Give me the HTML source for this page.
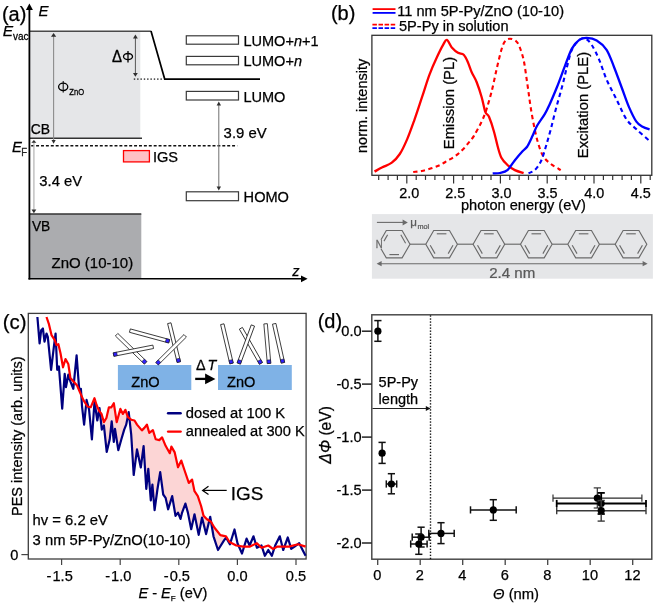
<!DOCTYPE html>
<html><head><meta charset="utf-8"><title>Figure</title>
<style>
html,body{margin:0;padding:0;background:#fff;}
body{width:656px;height:605px;overflow:hidden;}
svg{display:block;font-family:"Liberation Sans",sans-serif;will-change:transform;}
</style></head>
<body>
<svg width="656" height="605" viewBox="0 0 656 605">
<rect width="656" height="605" fill="#fff"/>
<rect x="29.5" y="31" width="110.8" height="107.2" fill="#e5e6e8"/>
<rect x="29.5" y="214" width="111.8" height="64.6" fill="#abacaf"/>
<polyline points="29.5,31.3 151,31.3" fill="none" stroke="#4a4a4a" stroke-width="1.6"/>
<polyline points="151,31 164.7,79.1 260,79.1" fill="none" stroke="#000" stroke-width="1.7" stroke-linejoin="miter"/>
<rect x="133.80" y="78.45" width="1.4" height="1.3" fill="#1a1a1a"/>
<rect x="137.13" y="78.45" width="1.4" height="1.3" fill="#1a1a1a"/>
<rect x="140.46" y="78.45" width="1.4" height="1.3" fill="#1a1a1a"/>
<rect x="143.79" y="78.45" width="1.4" height="1.3" fill="#1a1a1a"/>
<rect x="147.12" y="78.45" width="1.4" height="1.3" fill="#1a1a1a"/>
<rect x="150.45" y="78.45" width="1.4" height="1.3" fill="#1a1a1a"/>
<rect x="153.78" y="78.45" width="1.4" height="1.3" fill="#1a1a1a"/>
<rect x="157.11" y="78.45" width="1.4" height="1.3" fill="#1a1a1a"/>
<rect x="160.44" y="78.45" width="1.4" height="1.3" fill="#1a1a1a"/>
<line x1="29.5" y1="138.2" x2="142" y2="138.2" stroke="#333" stroke-width="1.5" />
<line x1="29.5" y1="214" x2="141.3" y2="214" stroke="#333" stroke-width="1.5" />
<line x1="31.2" y1="145.8" x2="237.2" y2="145.8" stroke="#111" stroke-width="1.6" stroke-dasharray="2.95 1.95"/>
<line x1="29.4" y1="9" x2="29.4" y2="279.5" stroke="#000" stroke-width="1.8" />
<polygon points="29.4,3.4 32.9,10.0 25.9,10.0" fill="#000"/>
<line x1="28.5" y1="278.8" x2="302" y2="278.8" stroke="#000" stroke-width="1.6" />
<polygon points="307.6,278.8 301.0,282.2 301.0,275.4" fill="#000"/>
<line x1="53.6" y1="36" x2="53.6" y2="140.5" stroke="#8c8c8c" stroke-width="1.1" />
<polygon points="53.6,33.0 56.2,36.8 51.0,36.8" fill="#2e2e2e"/>
<polygon points="53.6,143.8 51.5,139.9 55.7,139.9" fill="#2e2e2e"/>
<line x1="135.4" y1="37" x2="135.4" y2="74" stroke="#555" stroke-width="1.0" />
<polygon points="135.4,34.4 137.8,38.6 133.0,38.6" fill="#2e2e2e"/>
<polygon points="135.4,76.8 133.0,72.9 137.8,72.9" fill="#2e2e2e"/>
<line x1="33.9" y1="142" x2="33.9" y2="211" stroke="#b8b8b8" stroke-width="1.3" />
<polygon points="33.9,139.9 36.4,142.8 31.4,142.8" fill="#2e2e2e"/>
<polygon points="33.9,213.2 31.5,209.6 36.3,209.6" fill="#2e2e2e"/>
<line x1="218.8" y1="104" x2="218.8" y2="188" stroke="#707070" stroke-width="1.0" />
<polygon points="218.8,101.6 221.0,105.6 216.6,105.6" fill="#2e2e2e"/>
<polygon points="218.8,190.4 216.6,186.4 221.0,186.4" fill="#2e2e2e"/>
<rect x="186.3" y="35.8" width="52.2" height="8.400000000000006" fill="#fff" stroke="#3a3a3a" stroke-width="1.2"/>
<rect x="186.3" y="56.4" width="52.2" height="8.399999999999999" fill="#fff" stroke="#3a3a3a" stroke-width="1.2"/>
<rect x="186.3" y="91.4" width="52.2" height="8.599999999999994" fill="#fff" stroke="#3a3a3a" stroke-width="1.2"/>
<rect x="186.3" y="191.8" width="52.2" height="8.899999999999977" fill="#fff" stroke="#3a3a3a" stroke-width="1.2"/>
<rect x="123.5" y="150.6" width="25.9" height="11.3" fill="#ffc0c4" stroke="#f00" stroke-width="1.3"/>
<text transform="translate(1.9,21.1)" font-size="20" text-anchor="start" fill="#000" stroke="#000" stroke-width="0.25" >(a)</text>
<text transform="translate(38.4,15.6)" font-size="15.0" text-anchor="start" fill="#000" stroke="#000" stroke-width="0.25" font-style="italic">E</text>
<text transform="translate(2.8,36.3)" font-size="15.5" text-anchor="start" fill="#000" stroke="#000" stroke-width="0.25" font-style="italic">E</text>
<text transform="translate(12.9,39.9) scale(1,1.15)" font-size="10.0" text-anchor="start" fill="#000" stroke="#000" stroke-width="0.25" >vac</text>
<text transform="translate(112,61.9) scale(1,1.1)" font-size="15" text-anchor="start" fill="#000" stroke="#000" stroke-width="0.25" >Δ</text>
<ellipse cx="128.0" cy="56.6" rx="4.5" ry="3.1" fill="none" stroke="#000" stroke-width="1.3"/>
<line x1="128.0" y1="51.1" x2="128.0" y2="62.4" stroke="#000" stroke-width="1.3"/>
<ellipse cx="63.2" cy="86.85" rx="4.6" ry="3.7" fill="none" stroke="#000" stroke-width="1.3"/>
<line x1="63.2" y1="81.0" x2="63.2" y2="92.6" stroke="#000" stroke-width="1.0"/>
<text transform="translate(69.3,95.3) scale(1,1.17)" font-size="7.6" text-anchor="start" fill="#000" stroke="#000" stroke-width="0.25" >ZnO</text>
<text transform="translate(30.7,134.0)" font-size="13.9" text-anchor="start" fill="#000" stroke="#000" stroke-width="0.25" >CB</text>
<text transform="translate(12.0,151.9) scale(1,1.05)" font-size="14.8" text-anchor="start" fill="#000" stroke="#000" stroke-width="0.25" font-style="italic">E</text>
<text transform="translate(21.3,156.0) scale(1,1.05)" font-size="9.6" text-anchor="start" fill="#222" stroke="#222" stroke-width="0.25" >F</text>
<text transform="translate(39.3,185.9)" font-size="14.8" text-anchor="start" fill="#000" stroke="#000" stroke-width="0.25" >3.4 eV</text>
<text transform="translate(31.9,230.5)" font-size="13.8" text-anchor="start" fill="#000" stroke="#000" stroke-width="0.25" >VB</text>
<text transform="translate(51.5,268.0)" font-size="15.0" text-anchor="start" fill="#000" stroke="#000" stroke-width="0.25" >ZnO (10-10)</text>
<text transform="translate(152.9,162.0)" font-size="14.6" text-anchor="start" fill="#000" stroke="#000" stroke-width="0.25" >IGS</text>
<text transform="translate(243.4,45.8)" font-size="14.55" text-anchor="start" fill="#000" stroke="#000" stroke-width="0.25" >LUMO+<tspan font-style="italic">n</tspan>+1</text>
<text transform="translate(243.4,66.2)" font-size="14.55" text-anchor="start" fill="#000" stroke="#000" stroke-width="0.25" >LUMO+<tspan font-style="italic">n</tspan></text>
<text transform="translate(243.4,101.6)" font-size="14.55" text-anchor="start" fill="#000" stroke="#000" stroke-width="0.25" >LUMO</text>
<text transform="translate(223.6,137.5)" font-size="14.9" text-anchor="start" fill="#000" stroke="#000" stroke-width="0.25" >3.9 eV</text>
<text transform="translate(243.6,201.6) scale(1,1.05)" font-size="14.6" text-anchor="start" fill="#000" stroke="#000" stroke-width="0.25" >HOMO</text>
<text transform="translate(292.2,275.9)" font-size="14.6" text-anchor="start" fill="#000" stroke="#000" stroke-width="0.25" font-style="italic">z</text>
<text transform="translate(330.9,19.7)" font-size="20" text-anchor="start" fill="#000" stroke="#000" stroke-width="0.25" >(b)</text>
<line x1="372.6" y1="9.1" x2="395.5" y2="9.1" stroke="#f00" stroke-width="1.8" />
<line x1="372.6" y1="12.9" x2="395.5" y2="12.9" stroke="#00f" stroke-width="1.8" />
<line x1="372.4" y1="24.7" x2="395.5" y2="24.7" stroke="#f00" stroke-width="1.8" stroke-dasharray="4.5 1.6"/>
<line x1="372.4" y1="28.1" x2="395.5" y2="28.1" stroke="#00f" stroke-width="1.8" stroke-dasharray="4.5 1.6"/>
<text transform="translate(397.2,16.1)" font-size="14.6" text-anchor="start" fill="#000" stroke="#000" stroke-width="0.25" >11 nm 5P-Py/ZnO (10-10)</text>
<text transform="translate(399.0,31.2)" font-size="14.6" text-anchor="start" fill="#000" stroke="#000" stroke-width="0.25" >5P-Py in solution</text>
<rect x="371.9" y="214.1" width="281" height="64.6" fill="#e5e6e8"/>
<rect x="371.9" y="35.3" width="279.9" height="140.0" fill="none" stroke="#333" stroke-width="1.3"/>
<line x1="378.7" y1="175.3" x2="378.7" y2="179.9" stroke="#333" stroke-width="1.2" />
<line x1="388.1" y1="175.3" x2="388.1" y2="179.9" stroke="#333" stroke-width="1.2" />
<line x1="397.4" y1="175.3" x2="397.4" y2="179.9" stroke="#333" stroke-width="1.2" />
<line x1="406.8" y1="175.3" x2="406.8" y2="183.5" stroke="#333" stroke-width="1.2" />
<text transform="translate(409.2,198.1)" font-size="14.4" text-anchor="middle" fill="#000" stroke="#000" stroke-width="0.25" >2.0</text>
<line x1="416.2" y1="175.3" x2="416.2" y2="179.9" stroke="#333" stroke-width="1.2" />
<line x1="425.5" y1="175.3" x2="425.5" y2="179.9" stroke="#333" stroke-width="1.2" />
<line x1="434.9" y1="175.3" x2="434.9" y2="179.9" stroke="#333" stroke-width="1.2" />
<line x1="444.2" y1="175.3" x2="444.2" y2="179.9" stroke="#333" stroke-width="1.2" />
<line x1="453.6" y1="175.3" x2="453.6" y2="183.5" stroke="#333" stroke-width="1.2" />
<text transform="translate(455.3,198.1)" font-size="14.4" text-anchor="middle" fill="#000" stroke="#000" stroke-width="0.25" >2.5</text>
<line x1="463.0" y1="175.3" x2="463.0" y2="179.9" stroke="#333" stroke-width="1.2" />
<line x1="472.3" y1="175.3" x2="472.3" y2="179.9" stroke="#333" stroke-width="1.2" />
<line x1="481.7" y1="175.3" x2="481.7" y2="179.9" stroke="#333" stroke-width="1.2" />
<line x1="491.0" y1="175.3" x2="491.0" y2="179.9" stroke="#333" stroke-width="1.2" />
<line x1="500.4" y1="175.3" x2="500.4" y2="183.5" stroke="#333" stroke-width="1.2" />
<text transform="translate(501.4,198.1)" font-size="14.4" text-anchor="middle" fill="#000" stroke="#000" stroke-width="0.25" >3.0</text>
<line x1="509.8" y1="175.3" x2="509.8" y2="179.9" stroke="#333" stroke-width="1.2" />
<line x1="519.1" y1="175.3" x2="519.1" y2="179.9" stroke="#333" stroke-width="1.2" />
<line x1="528.5" y1="175.3" x2="528.5" y2="179.9" stroke="#333" stroke-width="1.2" />
<line x1="537.8" y1="175.3" x2="537.8" y2="179.9" stroke="#333" stroke-width="1.2" />
<line x1="547.2" y1="175.3" x2="547.2" y2="183.5" stroke="#333" stroke-width="1.2" />
<text transform="translate(547.6,198.1)" font-size="14.4" text-anchor="middle" fill="#000" stroke="#000" stroke-width="0.25" >3.5</text>
<line x1="556.6" y1="175.3" x2="556.6" y2="179.9" stroke="#333" stroke-width="1.2" />
<line x1="565.9" y1="175.3" x2="565.9" y2="179.9" stroke="#333" stroke-width="1.2" />
<line x1="575.3" y1="175.3" x2="575.3" y2="179.9" stroke="#333" stroke-width="1.2" />
<line x1="584.6" y1="175.3" x2="584.6" y2="179.9" stroke="#333" stroke-width="1.2" />
<line x1="594.0" y1="175.3" x2="594.0" y2="183.5" stroke="#333" stroke-width="1.2" />
<text transform="translate(594.2,198.1)" font-size="14.4" text-anchor="middle" fill="#000" stroke="#000" stroke-width="0.25" >4.0</text>
<line x1="603.4" y1="175.3" x2="603.4" y2="179.9" stroke="#333" stroke-width="1.2" />
<line x1="612.7" y1="175.3" x2="612.7" y2="179.9" stroke="#333" stroke-width="1.2" />
<line x1="622.1" y1="175.3" x2="622.1" y2="179.9" stroke="#333" stroke-width="1.2" />
<line x1="631.4" y1="175.3" x2="631.4" y2="179.9" stroke="#333" stroke-width="1.2" />
<line x1="640.8" y1="175.3" x2="640.8" y2="183.5" stroke="#333" stroke-width="1.2" />
<text transform="translate(640.8,198.1)" font-size="14.4" text-anchor="middle" fill="#000" stroke="#000" stroke-width="0.25" >4.5</text>
<line x1="650.2" y1="175.3" x2="650.2" y2="179.9" stroke="#333" stroke-width="1.2" />
<text transform="translate(461,210.0)" font-size="14.6" text-anchor="start" fill="#000" stroke="#000" stroke-width="0.25" >photon energy (eV)</text>
<text transform="translate(366.6,105.9) rotate(-90) scale(1,0.97)" font-size="14.5" text-anchor="middle" fill="#000" stroke="#000" stroke-width="0.25" >norm. intensity</text>
<text transform="translate(453.9,103.0) rotate(-90)" font-size="14.85" text-anchor="middle" fill="#000" stroke="#000" stroke-width="0.25" >Emission (PL)</text>
<text transform="translate(588.0,105.0) rotate(-90)" font-size="14.85" text-anchor="middle" fill="#000" stroke="#000" stroke-width="0.25" >Excitation (PLE)</text>
<path d="M413.2,172.0 C414.6,171.8 418.7,171.6 421.7,171.0 C424.7,170.4 428.3,169.3 431.3,168.3 C434.3,167.3 437.2,166.3 439.9,165.1 C442.6,163.8 444.8,162.3 447.4,160.8 C450.0,159.3 452.9,157.8 455.4,156.0 C457.9,154.2 460.1,152.3 462.3,150.1 C464.5,147.9 466.7,145.1 468.7,142.7 C470.7,140.3 472.0,139.1 474.1,135.6 C476.2,132.1 479.5,126.1 481.6,121.7 C483.7,117.3 484.9,114.2 486.5,109.3 C488.1,104.3 489.8,98.6 491.5,92.0 C493.2,85.4 494.9,76.7 496.5,69.7 C498.1,62.7 500.0,54.5 501.4,49.8 C502.8,45.0 503.7,43.1 505.1,41.2 C506.5,39.4 508.1,38.7 509.9,38.7 C511.7,38.7 514.5,39.8 516.1,41.2 C517.8,42.7 518.5,44.3 519.8,47.4 C521.0,50.5 522.6,55.3 523.6,59.8 C524.6,64.3 525.2,69.2 526.0,74.6 C526.8,80.0 527.7,86.2 528.5,92.0 C529.3,97.8 530.0,103.1 531.0,109.3 C532.0,115.5 533.5,123.4 534.7,129.2 C535.9,135.0 537.0,139.5 538.4,144.1 C539.8,148.7 541.3,153.2 543.4,156.5 C545.5,159.8 547.9,161.6 550.8,163.9 C553.7,166.2 559.1,169.1 560.7,170.1" fill="none" stroke="#f00" stroke-width="2.1" stroke-dasharray="4.3 3.4"/>
<path d="M528.5,173.3 C529.5,172.8 532.6,172.1 534.7,170.1 C536.8,168.1 539.0,165.3 540.9,161.4 C542.8,157.5 544.2,151.9 545.9,146.5 C547.5,141.1 549.1,135.4 550.8,129.2 C552.4,123.0 553.9,116.3 555.8,109.3 C557.7,102.3 560.1,94.0 562.0,87.0 C563.9,80.0 565.2,73.4 566.9,67.2 C568.5,61.0 569.8,54.3 571.9,49.8 C574.0,45.2 577.0,41.8 579.3,39.9 C581.6,38.0 583.4,37.9 585.5,38.7 C587.6,39.5 589.4,41.4 591.7,44.9 C594.0,48.4 596.7,54.0 599.2,59.8 C601.7,65.6 603.7,73.0 606.6,79.6 C609.5,86.2 613.2,92.8 616.5,99.4 C619.8,106.0 623.2,114.3 626.5,119.3 C629.8,124.3 632.5,125.6 636.4,129.2 C640.2,132.8 647.4,139.0 649.6,141.0" fill="none" stroke="#00f" stroke-width="2.1" stroke-dasharray="4.3 3.4"/>
<path d="M374.5,171.6 C375.8,170.9 379.5,168.8 382.4,167.3 C385.3,165.8 388.9,164.9 391.8,162.7 C394.7,160.5 397.2,157.9 399.8,154.0 C402.4,150.1 404.7,144.9 407.2,139.1 C409.7,133.3 412.1,126.3 414.6,119.3 C417.1,112.3 419.6,104.4 422.1,96.9 C424.6,89.5 427.0,81.2 429.5,74.6 C432.0,68.0 434.6,62.2 436.9,57.3 C439.2,52.3 441.4,47.8 443.1,44.9 C444.8,42.0 445.4,39.5 446.9,39.9 C448.3,40.3 449.9,45.2 451.8,47.4 C453.7,49.5 456.0,51.6 458.0,52.8 C460.0,54.0 462.1,53.2 463.7,54.8 C465.3,56.4 466.6,59.3 467.9,62.2 C469.2,65.1 470.2,68.9 471.7,72.2 C473.1,75.5 475.0,77.9 476.6,82.0 C478.2,86.1 480.2,92.0 481.6,97.0 C483.1,102.0 484.1,108.5 485.3,111.8 C486.5,115.1 487.6,113.5 489.0,116.8 C490.4,120.1 492.6,126.7 494.0,131.7 C495.4,136.6 496.5,142.2 497.7,146.5 C498.9,150.8 499.8,154.6 501.4,157.7 C503.0,160.8 505.4,163.0 507.6,165.1 C509.9,167.2 512.2,168.8 514.9,170.1 C517.6,171.4 522.1,172.6 523.6,173.1" fill="none" stroke="#f00" stroke-width="2.3" stroke-linejoin="round"/>
<path d="M492.7,173.4 C493.9,173.3 497.6,173.6 500.0,173.0 C502.4,172.4 504.9,172.2 507.4,170.1 C509.9,168.0 512.4,163.3 514.9,160.2 C517.4,157.1 520.2,153.8 522.3,151.5 C524.4,149.2 525.6,149.0 527.3,146.5 C528.9,144.0 530.6,140.1 532.2,136.6 C533.9,133.1 535.1,129.2 537.2,125.5 C539.3,121.8 542.5,117.8 544.6,114.3 C546.7,110.8 547.5,109.0 549.6,104.4 C551.7,99.9 554.5,93.2 557.0,87.0 C559.5,80.8 562.0,73.6 564.5,67.2 C567.0,60.8 569.4,53.2 571.9,48.6 C574.4,44.0 576.8,41.7 579.3,39.9 C581.8,38.1 583.9,37.8 586.8,37.9 C589.7,38.0 593.4,38.4 596.7,40.4 C600.0,42.4 603.7,45.3 606.6,49.8 C609.5,54.3 611.6,61.0 614.1,67.2 C616.6,73.4 619.0,80.4 621.5,87.0 C624.0,93.6 626.4,101.1 628.9,106.9 C631.4,112.7 634.1,118.4 636.4,121.7 C638.7,125.0 640.4,125.4 642.6,126.7 C644.8,128.0 648.4,129.0 649.6,129.4" fill="none" stroke="#00f" stroke-width="2.3" stroke-linejoin="round"/>
<polyline points="381.0,248.7 386.3,257.9 402.1,257.9 410.0,244.2 402.1,230.5 386.3,230.5 381.0,239.7" fill="none" stroke="#6a6a6a" stroke-width="1.15"/>
<text transform="translate(375.8,247.5) scale(1,1.1)" font-size="9.6" text-anchor="start" fill="#6a6a6a" stroke="#6a6a6a" stroke-width="0.25" >N</text>
<line x1="384.0" y1="241.1" x2="387.6" y2="234.8" stroke="#6a6a6a" stroke-width="1.15" />
<line x1="400.8" y1="234.8" x2="405.6" y2="243.2" stroke="#6a6a6a" stroke-width="1.15" />
<line x1="399.0" y1="254.6" x2="389.4" y2="254.6" stroke="#6a6a6a" stroke-width="1.15" />
<line x1="410.0" y1="244.2" x2="425.8" y2="244.2" stroke="#6a6a6a" stroke-width="1.15" />
<polygon points="425.8,244.2 433.7,230.5 449.5,230.5 457.4,244.2 449.5,257.9 433.7,257.9" fill="none" stroke="#6a6a6a" stroke-width="1.15"/>
<line x1="436.8" y1="233.8" x2="446.4" y2="233.8" stroke="#6a6a6a" stroke-width="1.15" />
<line x1="453.0" y1="245.2" x2="448.2" y2="253.6" stroke="#6a6a6a" stroke-width="1.15" />
<line x1="435.0" y1="253.6" x2="430.2" y2="245.2" stroke="#6a6a6a" stroke-width="1.15" />
<line x1="457.4" y1="244.2" x2="473.1" y2="244.2" stroke="#6a6a6a" stroke-width="1.15" />
<polygon points="473.1,244.2 481.0,230.5 496.8,230.5 504.7,244.2 496.8,257.9 481.0,257.9" fill="none" stroke="#6a6a6a" stroke-width="1.15"/>
<line x1="484.1" y1="233.8" x2="493.7" y2="233.8" stroke="#6a6a6a" stroke-width="1.15" />
<line x1="500.3" y1="245.2" x2="495.5" y2="253.6" stroke="#6a6a6a" stroke-width="1.15" />
<line x1="482.3" y1="253.6" x2="477.5" y2="245.2" stroke="#6a6a6a" stroke-width="1.15" />
<line x1="504.7" y1="244.2" x2="520.5" y2="244.2" stroke="#6a6a6a" stroke-width="1.15" />
<polygon points="520.5,244.2 528.4,230.5 544.2,230.5 552.1,244.2 544.2,257.9 528.4,257.9" fill="none" stroke="#6a6a6a" stroke-width="1.15"/>
<line x1="531.5" y1="233.8" x2="541.1" y2="233.8" stroke="#6a6a6a" stroke-width="1.15" />
<line x1="547.7" y1="245.2" x2="542.9" y2="253.6" stroke="#6a6a6a" stroke-width="1.15" />
<line x1="529.7" y1="253.6" x2="524.9" y2="245.2" stroke="#6a6a6a" stroke-width="1.15" />
<line x1="552.1" y1="244.2" x2="567.8" y2="244.2" stroke="#6a6a6a" stroke-width="1.15" />
<polygon points="567.8,244.2 575.7,230.5 591.5,230.5 599.4,244.2 591.5,257.9 575.7,257.9" fill="none" stroke="#6a6a6a" stroke-width="1.15"/>
<line x1="578.8" y1="233.8" x2="588.4" y2="233.8" stroke="#6a6a6a" stroke-width="1.15" />
<line x1="595.0" y1="245.2" x2="590.2" y2="253.6" stroke="#6a6a6a" stroke-width="1.15" />
<line x1="577.0" y1="253.6" x2="572.2" y2="245.2" stroke="#6a6a6a" stroke-width="1.15" />
<line x1="599.4" y1="244.2" x2="615.2" y2="244.2" stroke="#6a6a6a" stroke-width="1.15" />
<polygon points="615.2,244.2 623.1,230.5 638.9,230.5 646.8,244.2 638.9,257.9 623.1,257.9" fill="none" stroke="#6a6a6a" stroke-width="1.15"/>
<line x1="626.2" y1="233.8" x2="635.8" y2="233.8" stroke="#6a6a6a" stroke-width="1.15" />
<line x1="642.4" y1="245.2" x2="637.6" y2="253.6" stroke="#6a6a6a" stroke-width="1.15" />
<line x1="624.4" y1="253.6" x2="619.6" y2="245.2" stroke="#6a6a6a" stroke-width="1.15" />
<line x1="376.9" y1="222.4" x2="403" y2="222.4" stroke="#6a6a6a" stroke-width="1.1" />
<polygon points="407.8,222.4 402.6,225.4 402.6,219.4" fill="#6a6a6a"/>
<text transform="translate(410.2,225.8)" font-size="11.6" text-anchor="start" fill="#5a5a5a" stroke="#5a5a5a" stroke-width="0.25" >μ</text>
<text transform="translate(417.4,228.6) scale(1,0.88)" font-size="7.3" text-anchor="start" fill="#5a5a5a" stroke="#5a5a5a" stroke-width="0.25" >mol</text>
<line x1="380" y1="263.7" x2="643" y2="263.7" stroke="#6a6a6a" stroke-width="1.1" />
<polygon points="376.6,263.7 381.6,261.1 381.6,266.3" fill="#6a6a6a"/>
<polygon points="647.6,263.7 642.6,266.3 642.6,261.1" fill="#6a6a6a"/>
<text transform="translate(489.2,278.0) scale(1,0.97)" font-size="15.1" text-anchor="start" fill="#5a5a5a" stroke="#5a5a5a" stroke-width="0.25" >2.4 nm</text>
<text transform="translate(2.8,328.8)" font-size="20.4" text-anchor="start" fill="#000" stroke="#000" stroke-width="0.25" >(c)</text>
<polygon points="96.0,403.1 96.5,404.8 97.0,406.0 97.5,407.1 98.0,408.3 98.5,409.4 99.0,410.6 99.5,411.3 100.0,411.9 100.5,412.6 101.0,413.2 101.5,413.9 102.0,415.6 102.5,417.3 103.0,419.0 103.5,420.7 104.0,421.9 104.5,421.1 105.0,420.3 105.5,419.5 106.0,418.7 106.5,417.6 107.0,415.4 107.5,413.3 108.0,411.2 108.5,409.0 109.0,407.3 109.5,407.3 110.0,407.3 110.5,407.3 111.0,407.3 111.5,407.1 112.0,406.3 112.5,405.4 113.0,404.6 113.5,403.7 114.0,404.5 114.5,407.8 115.0,411.0 115.5,414.3 116.0,417.5 116.5,420.8 117.0,421.0 117.5,419.2 118.0,417.5 118.5,415.7 119.0,413.9 119.5,412.1 120.0,410.3 120.5,409.1 121.0,410.1 121.5,411.1 122.0,412.1 122.5,413.1 123.0,413.7 123.5,412.9 124.0,412.1 124.5,411.3 125.0,410.5 125.5,410.1 126.0,411.6 126.5,413.1 127.0,414.5 127.5,416.0 128.0,417.3 128.5,417.7 129.0,418.0 129.5,418.4 130.0,418.8 130.5,419.2 131.0,419.5 131.5,419.8 132.0,419.9 132.5,420.0 133.0,420.1 133.5,420.3 134.0,420.4 134.5,420.5 135.0,421.3 135.5,422.1 136.0,423.0 136.5,423.8 137.0,424.6 137.5,425.2 138.0,425.8 138.5,426.4 139.0,427.0 139.5,427.6 140.0,428.2 140.5,428.7 141.0,429.3 141.5,429.9 142.0,430.3 142.5,429.8 143.0,429.3 143.5,428.8 144.0,428.3 144.5,427.8 145.0,427.1 145.5,426.4 146.0,425.8 146.5,425.1 147.0,424.9 147.5,426.7 148.0,428.4 148.5,430.1 149.0,431.9 149.5,432.7 150.0,432.4 150.5,432.0 151.0,431.6 151.5,431.2 152.0,430.8 152.5,430.4 153.0,430.4 153.5,432.0 154.0,433.7 154.5,435.3 155.0,436.9 155.5,438.5 156.0,439.3 156.5,439.4 157.0,439.5 157.5,439.6 158.0,439.8 158.5,439.9 159.0,440.0 159.5,439.9 160.0,439.4 160.5,438.9 161.0,438.5 161.5,438.0 162.0,437.5 162.5,438.4 163.0,439.6 163.5,440.8 164.0,442.0 164.5,443.2 165.0,444.4 165.5,445.6 166.0,446.5 166.5,447.4 167.0,448.3 167.5,449.1 168.0,450.0 168.5,450.9 169.0,451.8 169.5,452.7 170.0,452.4 170.5,450.3 171.0,448.3 171.5,446.8 172.0,447.7 172.5,448.5 173.0,449.4 173.5,450.3 174.0,451.2 174.5,452.0 175.0,453.7 175.5,456.0 176.0,458.2 176.5,460.5 177.0,462.7 177.5,465.0 178.0,467.2 178.5,466.2 179.0,465.2 179.5,464.2 180.0,463.2 180.5,462.2 181.0,461.2 181.5,461.2 182.0,462.7 182.5,464.2 183.0,465.7 183.5,467.2 184.0,468.7 184.5,470.2 185.0,471.7 185.5,473.2 186.0,474.6 186.5,476.1 187.0,477.6 187.5,479.1 188.0,480.5 188.5,482.0 189.0,482.7 189.5,482.2 190.0,481.7 190.5,481.2 191.0,480.7 191.5,480.2 192.0,479.7 192.5,481.5 193.0,483.9 193.5,486.4 194.0,488.8 194.5,491.2 195.0,491.9 195.5,492.7 196.0,493.4 196.5,494.2 197.0,494.9 197.5,495.7 198.0,496.7 198.5,498.2 199.0,499.7 199.5,501.2 200.0,502.7 200.5,504.2 201.0,505.7 201.5,507.6 202.0,509.6 202.5,511.5 203.0,513.5 203.5,515.5 204.0,516.3 204.5,516.8 205.0,517.3 205.5,517.8 206.0,518.3 206.5,518.8 207.0,519.3 207.5,519.6 208.0,519.9 208.5,520.2 209.0,520.5 209.5,520.8 210.0,521.1 210.5,521.4 211.0,521.7 211.5,522.6 212.0,523.5 212.5,524.3 213.0,525.2 213.5,526.1 214.0,527.0 214.5,527.7 215.0,528.4 215.5,529.0 216.0,529.6 216.5,530.2 217.0,530.9 217.5,531.5 218.0,532.2 218.5,532.8 219.0,533.5 219.5,534.1 220.0,534.8 220.5,535.2 221.0,535.3 221.5,535.4 222.0,535.5 222.5,535.6 223.0,535.7 223.5,535.8 224.0,535.9 224.0,540.5 223.5,541.2 223.0,542.0 222.5,542.8 222.0,543.6 221.5,544.4 221.0,545.2 220.5,546.0 220.0,546.8 219.5,547.6 219.0,548.4 218.5,549.2 218.0,550.0 217.5,548.5 217.0,547.0 216.5,545.4 216.0,543.9 215.5,542.4 215.0,540.9 214.5,539.3 214.0,537.8 213.5,536.3 213.0,533.3 212.5,530.4 212.0,527.4 211.5,524.5 211.0,521.7 210.5,521.4 210.0,521.1 209.5,520.8 209.0,521.9 208.5,524.0 208.0,526.1 207.5,528.2 207.0,530.3 206.5,532.4 206.0,533.7 205.5,531.7 205.0,529.7 204.5,527.7 204.0,525.6 203.5,523.6 203.0,521.6 202.5,519.6 202.0,517.6 201.5,520.2 201.0,522.8 200.5,525.5 200.0,528.1 199.5,530.7 199.0,533.3 198.5,533.9 198.0,531.5 197.5,529.0 197.0,526.6 196.5,524.1 196.0,521.7 195.5,519.2 195.0,516.8 194.5,514.3 194.0,516.6 193.5,518.8 193.0,521.1 192.5,523.3 192.0,525.6 191.5,527.8 191.0,528.2 190.5,525.7 190.0,523.2 189.5,520.6 189.0,518.1 188.5,515.6 188.0,513.1 187.5,511.2 187.0,509.4 186.5,507.6 186.0,505.8 185.5,504.0 185.0,504.7 184.5,506.1 184.0,507.4 183.5,508.8 183.0,510.1 182.5,511.5 182.0,513.0 181.5,515.0 181.0,516.9 180.5,518.9 180.0,517.6 179.5,516.4 179.0,515.1 178.5,513.9 178.0,512.6 177.5,513.3 177.0,513.9 176.5,514.6 176.0,515.2 175.5,515.9 175.0,512.9 174.5,509.9 174.0,506.9 173.5,503.9 173.0,500.9 172.5,497.9 172.0,496.7 171.5,498.4 171.0,500.0 170.5,501.6 170.0,503.2 169.5,504.8 169.0,506.4 168.5,508.0 168.0,508.8 167.5,506.5 167.0,504.2 166.5,501.9 166.0,499.6 165.5,497.7 165.0,497.0 164.5,496.3 164.0,495.6 163.5,494.9 163.0,493.0 162.5,489.3 162.0,485.6 161.5,481.9 161.0,478.1 160.5,474.4 160.0,473.4 159.5,476.5 159.0,479.6 158.5,482.7 158.0,485.8 157.5,488.9 157.0,492.5 156.5,496.2 156.0,499.9 155.5,503.5 155.0,507.2 154.5,509.0 154.0,503.2 153.5,497.4 153.0,491.6 152.5,485.8 152.0,488.5 151.5,493.4 151.0,498.3 150.5,496.5 150.0,490.3 149.5,484.0 149.0,477.7 148.5,471.4 148.0,471.9 147.5,476.9 147.0,482.0 146.5,487.0 146.0,484.2 145.5,476.3 145.0,468.3 144.5,460.4 144.0,452.5 143.5,446.9 143.0,450.7 142.5,454.5 142.0,458.3 141.5,462.2 141.0,466.0 140.5,466.1 140.0,463.7 139.5,461.3 139.0,458.9 138.5,456.5 138.0,454.2 137.5,451.8 137.0,449.4 136.5,453.3 136.0,457.2 135.5,461.0 135.0,464.9 134.5,468.8 134.0,472.7 133.5,471.8 133.0,463.7 132.5,455.6 132.0,447.5 131.5,439.4 131.0,432.7 130.5,428.3 130.0,423.8 129.5,419.3 129.0,418.0 128.5,417.7 128.0,417.3 127.5,418.2 127.0,420.6 126.5,423.1 126.0,425.1 125.5,426.4 125.0,427.6 124.5,428.9 124.0,430.3 123.5,432.0 123.0,433.7 122.5,435.4 122.0,437.1 121.5,438.8 121.0,440.6 120.5,442.4 120.0,444.1 119.5,445.9 119.0,447.7 118.5,449.5 118.0,448.3 117.5,445.0 117.0,441.8 116.5,438.5 116.0,435.3 115.5,432.0 115.0,428.8 114.5,434.3 114.0,439.8 113.5,439.0 113.0,434.1 112.5,429.2 112.0,424.3 111.5,423.1 111.0,427.7 110.5,432.2 110.0,436.8 109.5,440.3 109.0,442.4 108.5,444.5 108.0,446.5 107.5,448.6 107.0,450.7 106.5,450.0 106.0,445.3 105.5,440.5 105.0,435.8 104.5,431.1 104.0,426.3 103.5,426.2 103.0,427.2 102.5,428.2 102.0,429.2 101.5,426.8 101.0,422.1 100.5,417.4 100.0,412.8 99.5,411.3 99.0,410.9 98.5,413.7 98.0,416.6 97.5,419.4 97.0,418.5 96.5,415.1 96.0,411.7" fill="#fcd5d5"/>
<rect x="28.3" y="313.4" width="277.8" height="245.6" fill="none" stroke="#3c3c3c" stroke-width="1.3"/>
<line x1="21.4" y1="554.6" x2="28.3" y2="554.6" stroke="#444" stroke-width="1.2" />
<text transform="translate(18.4,559.8) scale(1,1.05)" font-size="14.6" text-anchor="end" fill="#000" stroke="#000" stroke-width="0.25" >0</text>
<line x1="61.6" y1="559" x2="61.6" y2="565" stroke="#444" stroke-width="1.2" />
<text transform="translate(72.8,581.3)" font-size="14.6" text-anchor="end" fill="#000" stroke="#000" stroke-width="0.25" >1.5</text>
<text transform="translate(46.6,581.3)" font-size="14.6" text-anchor="start" fill="#000" stroke="#000" stroke-width="0.25" >-</text>
<line x1="120.2" y1="559" x2="120.2" y2="565" stroke="#444" stroke-width="1.2" />
<text transform="translate(131.4,581.3)" font-size="14.6" text-anchor="end" fill="#000" stroke="#000" stroke-width="0.25" >1.0</text>
<text transform="translate(105.2,581.3)" font-size="14.6" text-anchor="start" fill="#000" stroke="#000" stroke-width="0.25" >-</text>
<line x1="178.8" y1="559" x2="178.8" y2="565" stroke="#444" stroke-width="1.2" />
<text transform="translate(190.0,581.3)" font-size="14.6" text-anchor="end" fill="#000" stroke="#000" stroke-width="0.25" >0.5</text>
<text transform="translate(163.8,581.3)" font-size="14.6" text-anchor="start" fill="#000" stroke="#000" stroke-width="0.25" >-</text>
<line x1="237.4" y1="559" x2="237.4" y2="565" stroke="#444" stroke-width="1.2" />
<text transform="translate(237.4,581.3)" font-size="14.6" text-anchor="middle" fill="#000" stroke="#000" stroke-width="0.25" >0.0</text>
<line x1="296.0" y1="559" x2="296.0" y2="565" stroke="#444" stroke-width="1.2" />
<text transform="translate(296.0,581.3)" font-size="14.6" text-anchor="middle" fill="#000" stroke="#000" stroke-width="0.25" >0.5</text>
<text transform="translate(138.4,598.4)" font-size="14.6" text-anchor="start" fill="#000" stroke="#000" stroke-width="0.25" ><tspan font-style="italic">E</tspan> - <tspan font-style="italic">E</tspan><tspan font-size="8" dy="2.6">F</tspan><tspan dy="-2.6"> (eV)</tspan></text>
<text transform="translate(21.9,436.2) rotate(-90)" font-size="14.5" text-anchor="middle" fill="#000" stroke="#000" stroke-width="0.25" >PES intensity (arb. units)</text>
<polyline points="37.4,317.0 39.6,343.4 41.2,330.2 42.9,328.5 44.5,341.7 46.5,333.5 47.8,336.8 51.1,369.8 53.9,346.7 55.6,333.5 57.2,369.8 58.9,366.5 62.2,408.6 64.7,373.9 66.0,387.1 68.3,374.7 70.4,381.3 73.3,388.8 76.6,355.3 79.2,389.6 80.9,388.8 82.0,406.1 84.1,424.6 86.6,399.9 89.1,409.8 91.9,439.5 94.5,401.5 97.3,420.5 99.5,408.1 101.8,429.6 103.9,425.4 106.7,451.9 109.7,439.5 111.7,421.3 113.8,442.0 115.0,428.8 118.3,450.2 121.3,439.5 124.2,429.6 126.2,424.6 128.7,412.2 131.2,434.5 133.7,475.0 137.0,449.4 140.8,467.5 143.6,446.1 146.3,489.0 148.3,468.9 150.8,500.3 152.4,484.6 154.6,510.2 157.4,489.5 160.2,472.2 163.2,494.5 165.6,497.8 168.1,509.3 172.2,496.1 175.5,515.9 178.0,512.6 180.5,518.9 182.1,512.6 185.4,503.6 187.9,512.6 191.2,529.2 194.5,514.3 198.7,534.9 202.0,517.6 206.1,534.1 210.2,516.8 213.5,536.3 218.0,550.0 223.7,540.9 226.0,537.5 229.9,544.3 234.5,529.5 237.5,543.2 242.0,553.5 246.6,538.6 249.6,545.5 253.5,536.3 256.9,547.8 261.5,545.5 264.9,555.8 268.3,550.0 271.8,555.8 275.2,545.5 279.8,536.3 283.2,550.0 287.8,537.5 291.2,548.9 294.6,546.6 299.2,543.2 302.6,550.0 305.6,555.8" fill="none" stroke="#000080" stroke-width="2.2" stroke-linejoin="round"/>
<polyline points="46.5,317.0 49.0,324.4 51.5,335.1 54.8,340.1 56.4,345.0 58.4,344.2 60.5,353.3 63.0,367.3 65.5,359.1 68.3,364.0 70.4,378.0 74.2,382.2 77.1,385.5 80.0,392.4 83.3,399.9 87.4,406.5 90.7,407.3 94.5,398.2 96.5,404.8 99.0,410.6 101.5,413.9 103.9,422.1 106.4,418.0 108.9,407.3 111.4,407.3 113.8,403.2 116.7,422.1 120.4,408.9 122.9,413.9 125.4,409.8 127.9,417.2 131.2,419.7 134.5,420.5 137.0,424.6 141.9,430.4 144.4,427.9 146.9,424.6 149.3,432.9 152.9,430.1 155.7,439.2 159.3,440.1 162.1,437.4 165.6,445.8 169.8,453.2 171.4,446.6 174.7,452.4 178.0,467.2 181.3,460.6 184.6,470.5 188.8,482.9 192.1,479.6 194.5,491.2 197.8,496.1 201.1,506.0 203.6,515.9 206.9,519.2 211.0,521.7 214.3,527.5 217.5,531.5 220.3,535.2 226.0,536.3 229.5,542.0 236.3,545.5 243.2,546.6 250.0,546.6 256.9,543.2 261.5,547.8 268.3,545.5 272.9,548.9 277.5,546.6 288.9,546.6 298.1,544.3 305.6,546.6" fill="none" stroke="#f00" stroke-width="2.2" stroke-linejoin="round"/>
<line x1="168.1" y1="413.3" x2="180.6" y2="413.3" stroke="#000080" stroke-width="2.4" stroke-linecap="round"/>
<line x1="168.1" y1="431.6" x2="180.6" y2="431.6" stroke="#f00" stroke-width="2.4" stroke-linecap="round"/>
<text transform="translate(185.8,417.9)" font-size="14.75" text-anchor="start" fill="#000" stroke="#000" stroke-width="0.25" >dosed at 100 K</text>
<text transform="translate(185.8,436.0)" font-size="14.65" text-anchor="start" fill="#000" stroke="#000" stroke-width="0.25" >annealed at 300 K</text>
<text transform="translate(32.6,524.6)" font-size="14.8" text-anchor="start" fill="#000" stroke="#000" stroke-width="0.25" >hv = 6.2 eV</text>
<text transform="translate(32.6,544.8)" font-size="14.8" text-anchor="start" fill="#000" stroke="#000" stroke-width="0.25" >3 nm 5P-Py/ZnO(10-10)</text>
<line x1="203" y1="490.4" x2="226.7" y2="490.4" stroke="#000" stroke-width="1.2" />
<polyline points="208.5,486.3 202.6,490.4 208.5,494.5" fill="none" stroke="#000" stroke-width="1.2"/>
<text transform="translate(230.8,500.4)" font-size="18.9" text-anchor="start" fill="#000" stroke="#000" stroke-width="0.25" >IGS</text>
<rect x="117.9" y="365" width="73.4" height="25.0" fill="#7fb2e6"/>
<rect x="218.0" y="365" width="73.8" height="25.0" fill="#7fb2e6"/>
<text transform="translate(131.3,387.0) scale(1,1.02)" font-size="14.6" text-anchor="start" fill="#000" stroke="#000" stroke-width="0.25" >ZnO</text>
<text transform="translate(227.1,387.0) scale(1,1.02)" font-size="14.6" text-anchor="start" fill="#000" stroke="#000" stroke-width="0.25" >ZnO</text>
<text transform="translate(195.9,370.4) scale(1,1.04)" font-size="14.4" text-anchor="start" fill="#000" stroke="#000" stroke-width="0.25" >Δ</text>
<text transform="translate(207.4,370.4) scale(1,1.04)" font-size="14.4" text-anchor="start" fill="#000" stroke="#000" stroke-width="0.25" font-style="italic">T</text>
<line x1="195.2" y1="378.9" x2="206" y2="378.9" stroke="#000" stroke-width="2.3" />
<polygon points="215.4,378.9 205.1,373.5 205.1,384.3" fill="#000"/>
<g transform="translate(116.6,334.7) rotate(44.1)"><rect x="0" y="-1.75" width="40.4" height="3.5" fill="#fff" stroke="#111" stroke-width="0.75"/><rect x="36.9" y="-1.75" width="3.5" height="3.5" fill="#3020ff" stroke="#111" stroke-width="0.5"/></g>
<g transform="translate(153.2,346.8) rotate(168.9)"><rect x="0" y="-1.75" width="40.4" height="3.5" fill="#fff" stroke="#111" stroke-width="0.75"/><rect x="36.9" y="-1.75" width="3.5" height="3.5" fill="#3020ff" stroke="#111" stroke-width="0.5"/></g>
<g transform="translate(129.9,330.6) rotate(15.2)"><rect x="0" y="-1.75" width="40.7" height="3.5" fill="#fff" stroke="#111" stroke-width="0.75"/><rect x="37.2" y="-1.75" width="3.5" height="3.5" fill="#3020ff" stroke="#111" stroke-width="0.5"/></g>
<g transform="translate(169.3,323.2) rotate(76.2)"><rect x="0" y="-1.75" width="40.0" height="3.5" fill="#fff" stroke="#111" stroke-width="0.75"/><rect x="36.5" y="-1.75" width="3.5" height="3.5" fill="#3020ff" stroke="#111" stroke-width="0.5"/></g>
<g transform="translate(185.2,335.8) rotate(135.3)"><rect x="0" y="-1.75" width="39.6" height="3.5" fill="#fff" stroke="#111" stroke-width="0.75"/><rect x="36.1" y="-1.75" width="3.5" height="3.5" fill="#3020ff" stroke="#111" stroke-width="0.5"/></g>
<g transform="translate(222.3,324.2) rotate(76.8)"><rect x="0" y="-1.75" width="40.3" height="3.5" fill="#fff" stroke="#111" stroke-width="0.75"/><rect x="36.8" y="-1.75" width="3.5" height="3.5" fill="#3020ff" stroke="#111" stroke-width="0.5"/></g>
<g transform="translate(240.9,328.3) rotate(60.3)"><rect x="0" y="-1.75" width="40.4" height="3.5" fill="#fff" stroke="#111" stroke-width="0.75"/><rect x="36.9" y="-1.75" width="3.5" height="3.5" fill="#3020ff" stroke="#111" stroke-width="0.5"/></g>
<g transform="translate(252.9,325.5) rotate(110.4)"><rect x="0" y="-1.75" width="40.5" height="3.5" fill="#fff" stroke="#111" stroke-width="0.75"/><rect x="37.0" y="-1.75" width="3.5" height="3.5" fill="#3020ff" stroke="#111" stroke-width="0.5"/></g>
<g transform="translate(265.6,323.8) rotate(85.0)"><rect x="0" y="-1.75" width="39.8" height="3.5" fill="#fff" stroke="#111" stroke-width="0.75"/><rect x="36.3" y="-1.75" width="3.5" height="3.5" fill="#3020ff" stroke="#111" stroke-width="0.5"/></g>
<g transform="translate(274.2,323.8) rotate(77.4)"><rect x="0" y="-1.75" width="39.9" height="3.5" fill="#fff" stroke="#111" stroke-width="0.75"/><rect x="36.4" y="-1.75" width="3.5" height="3.5" fill="#3020ff" stroke="#111" stroke-width="0.5"/></g>
<text transform="translate(317.7,328.4)" font-size="20" text-anchor="start" fill="#000" stroke="#000" stroke-width="0.25" >(d)</text>
<rect x="371.8" y="314.8" width="280" height="244.4" fill="none" stroke="#454545" stroke-width="1.45"/>
<line x1="362" y1="331.2" x2="371.8" y2="331.2" stroke="#222" stroke-width="1.5" />
<text transform="translate(361.6,336.2) scale(1,1.02)" font-size="14.6" text-anchor="end" fill="#000" stroke="#000" stroke-width="0.25" >0.0</text>
<line x1="362" y1="384.1" x2="371.8" y2="384.1" stroke="#222" stroke-width="1.5" />
<text transform="translate(361.6,389.1) scale(1,1.02)" font-size="14.6" text-anchor="end" fill="#000" stroke="#000" stroke-width="0.25" >-0.5</text>
<line x1="362" y1="437.1" x2="371.8" y2="437.1" stroke="#222" stroke-width="1.5" />
<text transform="translate(361.6,442.1) scale(1,1.02)" font-size="14.6" text-anchor="end" fill="#000" stroke="#000" stroke-width="0.25" >-1.0</text>
<line x1="362" y1="490.1" x2="371.8" y2="490.1" stroke="#222" stroke-width="1.5" />
<text transform="translate(361.6,495.1) scale(1,1.02)" font-size="14.6" text-anchor="end" fill="#000" stroke="#000" stroke-width="0.25" >-1.5</text>
<line x1="362" y1="543.0" x2="371.8" y2="543.0" stroke="#222" stroke-width="1.5" />
<text transform="translate(361.6,548.0) scale(1,1.02)" font-size="14.6" text-anchor="end" fill="#000" stroke="#000" stroke-width="0.25" >-2.0</text>
<line x1="377.7" y1="559.2" x2="377.7" y2="565" stroke="#444" stroke-width="1.3" />
<text transform="translate(377.4,579.7)" font-size="14.6" text-anchor="middle" fill="#000" stroke="#000" stroke-width="0.25" >0</text>
<line x1="420.2" y1="559.2" x2="420.2" y2="565" stroke="#444" stroke-width="1.3" />
<text transform="translate(419.9,579.7)" font-size="14.6" text-anchor="middle" fill="#000" stroke="#000" stroke-width="0.25" >2</text>
<line x1="462.7" y1="559.2" x2="462.7" y2="565" stroke="#444" stroke-width="1.3" />
<text transform="translate(462.4,579.7)" font-size="14.6" text-anchor="middle" fill="#000" stroke="#000" stroke-width="0.25" >4</text>
<line x1="505.2" y1="559.2" x2="505.2" y2="565" stroke="#444" stroke-width="1.3" />
<text transform="translate(504.9,579.7)" font-size="14.6" text-anchor="middle" fill="#000" stroke="#000" stroke-width="0.25" >6</text>
<line x1="547.7" y1="559.2" x2="547.7" y2="565" stroke="#444" stroke-width="1.3" />
<text transform="translate(547.4,579.7)" font-size="14.6" text-anchor="middle" fill="#000" stroke="#000" stroke-width="0.25" >8</text>
<line x1="590.2" y1="559.2" x2="590.2" y2="565" stroke="#444" stroke-width="1.3" />
<text transform="translate(589.9,579.7)" font-size="14.6" text-anchor="middle" fill="#000" stroke="#000" stroke-width="0.25" >10</text>
<line x1="632.7" y1="559.2" x2="632.7" y2="565" stroke="#444" stroke-width="1.3" />
<text transform="translate(632.4,579.7)" font-size="14.6" text-anchor="middle" fill="#000" stroke="#000" stroke-width="0.25" >12</text>
<text transform="translate(493.0,599.3)" font-size="14.8" text-anchor="start" fill="#000" stroke="#000" stroke-width="0.25" ><tspan font-style="italic">Θ</tspan> (nm)</text>
<text transform="translate(331.2,434.8) rotate(-90)" font-size="15.7" text-anchor="middle" fill="#000" stroke="#000" stroke-width="0.25" ><tspan font-style="italic">ΔΦ</tspan> (eV)</text>
<rect x="429.8" y="315.30" width="1.4" height="1.4" fill="#111"/>
<rect x="429.8" y="318.33" width="1.4" height="1.4" fill="#111"/>
<rect x="429.8" y="321.36" width="1.4" height="1.4" fill="#111"/>
<rect x="429.8" y="324.39" width="1.4" height="1.4" fill="#111"/>
<rect x="429.8" y="327.42" width="1.4" height="1.4" fill="#111"/>
<rect x="429.8" y="330.45" width="1.4" height="1.4" fill="#111"/>
<rect x="429.8" y="333.48" width="1.4" height="1.4" fill="#111"/>
<rect x="429.8" y="336.51" width="1.4" height="1.4" fill="#111"/>
<rect x="429.8" y="339.54" width="1.4" height="1.4" fill="#111"/>
<rect x="429.8" y="342.57" width="1.4" height="1.4" fill="#111"/>
<rect x="429.8" y="345.60" width="1.4" height="1.4" fill="#111"/>
<rect x="429.8" y="348.63" width="1.4" height="1.4" fill="#111"/>
<rect x="429.8" y="351.66" width="1.4" height="1.4" fill="#111"/>
<rect x="429.8" y="354.69" width="1.4" height="1.4" fill="#111"/>
<rect x="429.8" y="357.72" width="1.4" height="1.4" fill="#111"/>
<rect x="429.8" y="360.75" width="1.4" height="1.4" fill="#111"/>
<rect x="429.8" y="363.78" width="1.4" height="1.4" fill="#111"/>
<rect x="429.8" y="366.81" width="1.4" height="1.4" fill="#111"/>
<rect x="429.8" y="369.84" width="1.4" height="1.4" fill="#111"/>
<rect x="429.8" y="372.87" width="1.4" height="1.4" fill="#111"/>
<rect x="429.8" y="375.90" width="1.4" height="1.4" fill="#111"/>
<rect x="429.8" y="378.93" width="1.4" height="1.4" fill="#111"/>
<rect x="429.8" y="381.96" width="1.4" height="1.4" fill="#111"/>
<rect x="429.8" y="384.99" width="1.4" height="1.4" fill="#111"/>
<rect x="429.8" y="388.02" width="1.4" height="1.4" fill="#111"/>
<rect x="429.8" y="391.05" width="1.4" height="1.4" fill="#111"/>
<rect x="429.8" y="394.08" width="1.4" height="1.4" fill="#111"/>
<rect x="429.8" y="397.11" width="1.4" height="1.4" fill="#111"/>
<rect x="429.8" y="400.14" width="1.4" height="1.4" fill="#111"/>
<rect x="429.8" y="403.17" width="1.4" height="1.4" fill="#111"/>
<rect x="429.8" y="406.20" width="1.4" height="1.4" fill="#111"/>
<rect x="429.8" y="409.23" width="1.4" height="1.4" fill="#111"/>
<rect x="429.8" y="412.26" width="1.4" height="1.4" fill="#111"/>
<rect x="429.8" y="415.29" width="1.4" height="1.4" fill="#111"/>
<rect x="429.8" y="418.32" width="1.4" height="1.4" fill="#111"/>
<rect x="429.8" y="421.35" width="1.4" height="1.4" fill="#111"/>
<rect x="429.8" y="424.38" width="1.4" height="1.4" fill="#111"/>
<rect x="429.8" y="427.41" width="1.4" height="1.4" fill="#111"/>
<rect x="429.8" y="430.44" width="1.4" height="1.4" fill="#111"/>
<rect x="429.8" y="433.47" width="1.4" height="1.4" fill="#111"/>
<rect x="429.8" y="436.50" width="1.4" height="1.4" fill="#111"/>
<rect x="429.8" y="439.53" width="1.4" height="1.4" fill="#111"/>
<rect x="429.8" y="442.56" width="1.4" height="1.4" fill="#111"/>
<rect x="429.8" y="445.59" width="1.4" height="1.4" fill="#111"/>
<rect x="429.8" y="448.62" width="1.4" height="1.4" fill="#111"/>
<rect x="429.8" y="451.65" width="1.4" height="1.4" fill="#111"/>
<rect x="429.8" y="454.68" width="1.4" height="1.4" fill="#111"/>
<rect x="429.8" y="457.71" width="1.4" height="1.4" fill="#111"/>
<rect x="429.8" y="460.74" width="1.4" height="1.4" fill="#111"/>
<rect x="429.8" y="463.77" width="1.4" height="1.4" fill="#111"/>
<rect x="429.8" y="466.80" width="1.4" height="1.4" fill="#111"/>
<rect x="429.8" y="469.83" width="1.4" height="1.4" fill="#111"/>
<rect x="429.8" y="472.86" width="1.4" height="1.4" fill="#111"/>
<rect x="429.8" y="475.89" width="1.4" height="1.4" fill="#111"/>
<rect x="429.8" y="478.92" width="1.4" height="1.4" fill="#111"/>
<rect x="429.8" y="481.95" width="1.4" height="1.4" fill="#111"/>
<rect x="429.8" y="484.98" width="1.4" height="1.4" fill="#111"/>
<rect x="429.8" y="488.01" width="1.4" height="1.4" fill="#111"/>
<rect x="429.8" y="491.04" width="1.4" height="1.4" fill="#111"/>
<rect x="429.8" y="494.07" width="1.4" height="1.4" fill="#111"/>
<rect x="429.8" y="497.10" width="1.4" height="1.4" fill="#111"/>
<rect x="429.8" y="500.13" width="1.4" height="1.4" fill="#111"/>
<rect x="429.8" y="503.16" width="1.4" height="1.4" fill="#111"/>
<rect x="429.8" y="506.19" width="1.4" height="1.4" fill="#111"/>
<rect x="429.8" y="509.22" width="1.4" height="1.4" fill="#111"/>
<rect x="429.8" y="512.25" width="1.4" height="1.4" fill="#111"/>
<rect x="429.8" y="515.28" width="1.4" height="1.4" fill="#111"/>
<rect x="429.8" y="518.31" width="1.4" height="1.4" fill="#111"/>
<rect x="429.8" y="521.34" width="1.4" height="1.4" fill="#111"/>
<rect x="429.8" y="524.37" width="1.4" height="1.4" fill="#111"/>
<rect x="429.8" y="527.40" width="1.4" height="1.4" fill="#111"/>
<rect x="429.8" y="530.43" width="1.4" height="1.4" fill="#111"/>
<rect x="429.8" y="533.46" width="1.4" height="1.4" fill="#111"/>
<rect x="429.8" y="536.49" width="1.4" height="1.4" fill="#111"/>
<rect x="429.8" y="539.52" width="1.4" height="1.4" fill="#111"/>
<rect x="429.8" y="542.55" width="1.4" height="1.4" fill="#111"/>
<rect x="429.8" y="545.58" width="1.4" height="1.4" fill="#111"/>
<rect x="429.8" y="548.61" width="1.4" height="1.4" fill="#111"/>
<rect x="429.8" y="551.64" width="1.4" height="1.4" fill="#111"/>
<rect x="429.8" y="554.67" width="1.4" height="1.4" fill="#111"/>
<rect x="429.8" y="557.70" width="1.4" height="1.4" fill="#111"/>
<line x1="372.5" y1="408.5" x2="426" y2="408.5" stroke="#222" stroke-width="1.2" />
<polygon points="430.6,408.5 425.8,410.9 425.8,406.1" fill="#111"/>
<text transform="translate(378.6,386.8)" font-size="14.5" text-anchor="start" fill="#000" stroke="#000" stroke-width="0.25" >5P-Py</text>
<text transform="translate(378.6,403.6)" font-size="14.5" text-anchor="start" fill="#000" stroke="#000" stroke-width="0.25" >length</text>
<line x1="377.9" y1="320.6" x2="377.9" y2="341.3" stroke="#111" stroke-width="1.5" />
<line x1="374.29999999999995" y1="320.6" x2="381.5" y2="320.6" stroke="#111" stroke-width="1.5" />
<line x1="374.29999999999995" y1="341.3" x2="381.5" y2="341.3" stroke="#111" stroke-width="1.5" />
<circle cx="377.9" cy="331.2" r="3.6" fill="#000"/>
<line x1="382.1" y1="442.4" x2="382.1" y2="463.4" stroke="#111" stroke-width="1.5" />
<line x1="378.5" y1="442.4" x2="385.70000000000005" y2="442.4" stroke="#111" stroke-width="1.5" />
<line x1="378.5" y1="463.4" x2="385.70000000000005" y2="463.4" stroke="#111" stroke-width="1.5" />
<circle cx="382.1" cy="453.2" r="3.6" fill="#000"/>
<line x1="391.4" y1="473.7" x2="391.4" y2="493.8" stroke="#111" stroke-width="1.5" />
<line x1="387.79999999999995" y1="473.7" x2="395.0" y2="473.7" stroke="#111" stroke-width="1.5" />
<line x1="387.79999999999995" y1="493.8" x2="395.0" y2="493.8" stroke="#111" stroke-width="1.5" />
<line x1="386.3" y1="484.0" x2="396.7" y2="484.0" stroke="#111" stroke-width="1.5" />
<line x1="386.3" y1="480.4" x2="386.3" y2="487.6" stroke="#111" stroke-width="1.5" />
<line x1="396.7" y1="480.4" x2="396.7" y2="487.6" stroke="#111" stroke-width="1.5" />
<circle cx="391.4" cy="484.0" r="3.6" fill="#000"/>
<line x1="421.1" y1="527.2" x2="421.1" y2="547.0" stroke="#111" stroke-width="1.5" />
<line x1="417.5" y1="527.2" x2="424.70000000000005" y2="527.2" stroke="#111" stroke-width="1.5" />
<line x1="417.5" y1="547.0" x2="424.70000000000005" y2="547.0" stroke="#111" stroke-width="1.5" />
<line x1="412.2" y1="537.2" x2="429.2" y2="537.2" stroke="#111" stroke-width="1.5" />
<line x1="412.2" y1="533.6" x2="412.2" y2="540.8000000000001" stroke="#111" stroke-width="1.5" />
<line x1="429.2" y1="533.6" x2="429.2" y2="540.8000000000001" stroke="#111" stroke-width="1.5" />
<circle cx="421.1" cy="537.2" r="3.6" fill="#000"/>
<line x1="418.8" y1="534.0" x2="418.8" y2="554.3" stroke="#111" stroke-width="1.5" />
<line x1="415.2" y1="534.0" x2="422.40000000000003" y2="534.0" stroke="#111" stroke-width="1.5" />
<line x1="415.2" y1="554.3" x2="422.40000000000003" y2="554.3" stroke="#111" stroke-width="1.5" />
<line x1="410.7" y1="544.0" x2="427.1" y2="544.0" stroke="#111" stroke-width="1.5" />
<line x1="410.7" y1="540.4" x2="410.7" y2="547.6" stroke="#111" stroke-width="1.5" />
<line x1="427.1" y1="540.4" x2="427.1" y2="547.6" stroke="#111" stroke-width="1.5" />
<circle cx="418.8" cy="544.0" r="3.6" fill="#000"/>
<line x1="441.0" y1="522.7" x2="441.0" y2="543.6" stroke="#111" stroke-width="1.5" />
<line x1="437.4" y1="522.7" x2="444.6" y2="522.7" stroke="#111" stroke-width="1.5" />
<line x1="437.4" y1="543.6" x2="444.6" y2="543.6" stroke="#111" stroke-width="1.5" />
<line x1="428.8" y1="533.4" x2="454.2" y2="533.4" stroke="#111" stroke-width="1.5" />
<line x1="428.8" y1="529.8" x2="428.8" y2="537.0" stroke="#111" stroke-width="1.5" />
<line x1="454.2" y1="529.8" x2="454.2" y2="537.0" stroke="#111" stroke-width="1.5" />
<circle cx="441.0" cy="533.4" r="3.6" fill="#000"/>
<line x1="493.3" y1="499.7" x2="493.3" y2="520.3" stroke="#111" stroke-width="1.5" />
<line x1="489.7" y1="499.7" x2="496.90000000000003" y2="499.7" stroke="#111" stroke-width="1.5" />
<line x1="489.7" y1="520.3" x2="496.90000000000003" y2="520.3" stroke="#111" stroke-width="1.5" />
<line x1="470.5" y1="509.9" x2="516.2" y2="509.9" stroke="#111" stroke-width="1.5" />
<line x1="470.5" y1="506.29999999999995" x2="470.5" y2="513.5" stroke="#111" stroke-width="1.5" />
<line x1="516.2" y1="506.29999999999995" x2="516.2" y2="513.5" stroke="#111" stroke-width="1.5" />
<circle cx="493.3" cy="509.9" r="3.6" fill="#000"/>
<line x1="597.3" y1="487.9" x2="597.3" y2="508.0" stroke="#2a2a2a" stroke-width="1.15" />
<line x1="593.6999999999999" y1="487.9" x2="600.9" y2="487.9" stroke="#2a2a2a" stroke-width="1.15" />
<line x1="593.6999999999999" y1="508.0" x2="600.9" y2="508.0" stroke="#2a2a2a" stroke-width="1.15" />
<line x1="553.0" y1="498.1" x2="641.9" y2="498.1" stroke="#2a2a2a" stroke-width="1.15" />
<line x1="553.0" y1="494.5" x2="553.0" y2="501.70000000000005" stroke="#2a2a2a" stroke-width="1.15" />
<line x1="641.9" y1="494.5" x2="641.9" y2="501.70000000000005" stroke="#2a2a2a" stroke-width="1.15" />
<circle cx="597.3" cy="498.1" r="3.6" fill="#000"/>
<line x1="601.2" y1="492.9" x2="601.2" y2="514.0" stroke="#000" stroke-width="1.8" />
<line x1="597.6" y1="492.9" x2="604.8000000000001" y2="492.9" stroke="#000" stroke-width="1.8" />
<line x1="597.6" y1="514.0" x2="604.8000000000001" y2="514.0" stroke="#000" stroke-width="1.8" />
<line x1="556.7" y1="503.5" x2="646.0" y2="503.5" stroke="#000" stroke-width="1.8" />
<line x1="556.7" y1="499.9" x2="556.7" y2="507.1" stroke="#000" stroke-width="1.8" />
<line x1="646.0" y1="499.9" x2="646.0" y2="507.1" stroke="#000" stroke-width="1.8" />
<circle cx="601.2" cy="503.5" r="3.6" fill="#000"/>
<line x1="601.2" y1="500.5" x2="601.2" y2="521.1" stroke="#3a3a3a" stroke-width="1.4" />
<line x1="597.6" y1="500.5" x2="604.8000000000001" y2="500.5" stroke="#3a3a3a" stroke-width="1.4" />
<line x1="597.6" y1="521.1" x2="604.8000000000001" y2="521.1" stroke="#3a3a3a" stroke-width="1.4" />
<line x1="556.7" y1="510.7" x2="646.0" y2="510.7" stroke="#3a3a3a" stroke-width="1.4" />
<line x1="556.7" y1="507.09999999999997" x2="556.7" y2="514.3" stroke="#3a3a3a" stroke-width="1.4" />
<line x1="646.0" y1="507.09999999999997" x2="646.0" y2="514.3" stroke="#3a3a3a" stroke-width="1.4" />
<circle cx="601.2" cy="510.7" r="3.6" fill="#000"/>
</svg>
</body></html>
